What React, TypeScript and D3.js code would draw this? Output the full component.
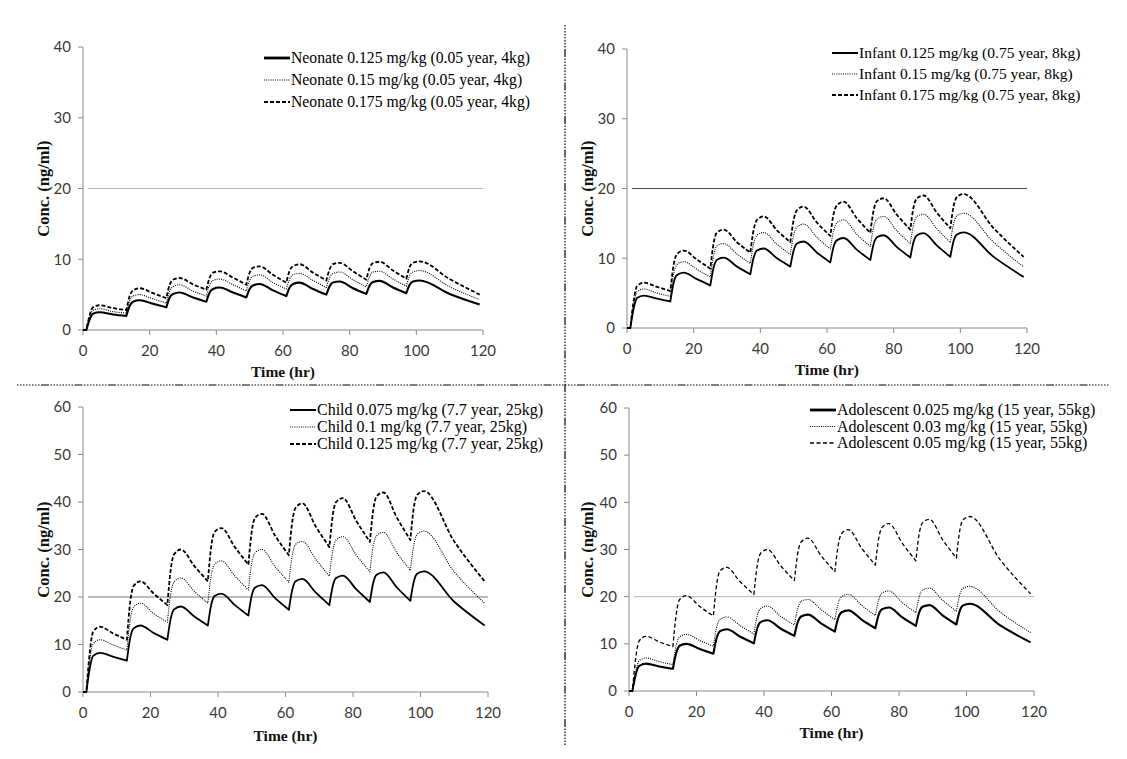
import React from "react";
import * as d3 from "d3";

// ---------- data ----------
const TIME = [0, 1, 2, 3, 5, 9, 13, 14, 15, 17, 21, 25, 26, 27, 29, 33, 37, 38, 39, 41, 45, 49, 50, 51, 53, 57, 61, 62, 63, 65, 69, 73, 74, 75, 77, 81, 85, 86, 87, 89, 93, 97, 98, 99, 101, 110, 119];
const DOSE_TIMES = [1, 13, 25, 37, 49, 61, 73, 85, 97];
const X_TICKS = [0, 20, 40, 60, 80, 100, 120];
const Y_TICKS_TOP = [0, 10, 20, 30, 40];
const Y_TICKS_BOTTOM = [0, 10, 20, 30, 40, 50, 60];

const NEONATE_0125 = [0, 0, 1.5, 2.3, 2.5, 2.2, 2.0, 3.4, 4.0, 4.2, 3.7, 3.2, 4.6, 5.1, 5.3, 4.6, 4.0, 5.3, 5.8, 6.0, 5.3, 4.6, 5.8, 6.3, 6.5, 5.6, 4.8, 6.0, 6.5, 6.7, 5.8, 5.0, 6.2, 6.7, 6.85, 5.9, 5.1, 6.3, 6.8, 6.95, 6.0, 5.2, 6.4, 6.85, 7.0, 5.1, 3.6];
const NEONATE_015 = [0, 0, 1.8, 2.8, 3.0, 2.6, 2.4, 4.1, 4.8, 5.0, 4.4, 3.8, 5.5, 6.1, 6.4, 5.5, 4.8, 6.4, 7.0, 7.2, 6.4, 5.5, 7.0, 7.6, 7.8, 6.7, 5.8, 7.2, 7.8, 8.0, 7.0, 6.0, 7.4, 8.0, 8.2, 7.1, 6.1, 7.6, 8.2, 8.3, 7.2, 6.2, 7.7, 8.2, 8.4, 6.1, 4.3];
const NEONATE_0175 = [0, 0, 2.1, 3.2, 3.5, 3.1, 2.8, 4.8, 5.6, 5.9, 5.2, 4.5, 6.4, 7.1, 7.35, 6.45, 5.7, 7.4, 8.1, 8.3, 7.4, 6.4, 8.1, 8.8, 9.0, 7.8, 6.7, 8.4, 9.0, 9.3, 8.1, 7.0, 8.6, 9.3, 9.5, 8.3, 7.1, 8.8, 9.45, 9.65, 8.4, 7.25, 8.9, 9.5, 9.7, 7.2, 5.0];

const INFANT_0125 = [0, 0, 2.8, 4.3, 4.65, 4.2, 3.8, 6.5, 7.6, 7.95, 7.0, 6.1, 8.7, 9.8, 10.1, 8.8, 7.7, 10.1, 11.1, 11.4, 10.0, 8.8, 11.1, 12.1, 12.4, 10.8, 9.4, 11.7, 12.6, 12.9, 11.2, 9.75, 12.05, 13.0, 13.3, 11.6, 10.1, 12.4, 13.3, 13.6, 11.8, 10.2, 12.5, 13.4, 13.7, 10.2, 7.3];
const INFANT_015 = [0, 0, 3.4, 5.2, 5.6, 5.0, 4.55, 7.8, 9.1, 9.5, 8.4, 7.3, 10.4, 11.8, 12.1, 10.6, 9.25, 12.1, 13.3, 13.7, 12.0, 10.55, 13.3, 14.5, 14.9, 13.0, 11.3, 14.0, 15.1, 15.5, 13.4, 11.7, 14.5, 15.6, 16.0, 13.9, 12.1, 14.9, 16.0, 16.3, 14.2, 12.25, 15.0, 16.1, 16.45, 12.3, 8.75];
const INFANT_0175 = [0, 0, 3.9, 6.0, 6.5, 5.9, 5.3, 9.1, 10.6, 11.1, 9.8, 8.5, 12.2, 13.7, 14.1, 12.3, 10.8, 14.1, 15.5, 16.0, 14.0, 12.3, 15.5, 16.9, 17.4, 15.1, 13.2, 16.4, 17.6, 18.1, 15.7, 13.65, 16.9, 18.2, 18.6, 16.2, 14.1, 17.4, 18.6, 19.0, 16.5, 14.3, 17.5, 18.8, 19.2, 14.3, 10.2];

const CHILD_0075 = [0, 0, 5.0, 7.6, 8.25, 7.4, 6.6, 11.4, 13.4, 14.0, 12.4, 11.0, 15.5, 17.4, 18.0, 15.9, 14.0, 18.4, 20.2, 20.7, 18.3, 16.1, 20.3, 22.0, 22.5, 19.7, 17.3, 21.5, 23.3, 23.8, 20.9, 18.3, 22.3, 24.0, 24.5, 21.6, 18.95, 23.0, 24.7, 25.2, 22.0, 19.2, 23.2, 24.9, 25.4, 19.0, 14.0];
const CHILD_01 = [0, 0, 6.7, 10.1, 11.0, 9.9, 8.8, 15.2, 17.9, 18.7, 16.5, 14.7, 20.7, 23.2, 24.0, 21.2, 18.7, 24.5, 26.9, 27.6, 24.4, 21.5, 27.1, 29.3, 30.0, 26.3, 23.1, 28.7, 31.1, 31.7, 27.9, 24.4, 29.7, 32.0, 32.7, 28.8, 25.3, 30.7, 32.9, 33.6, 29.3, 25.6, 30.9, 33.2, 33.9, 25.3, 18.7];
const CHILD_0125 = [0, 0, 8.3, 12.7, 13.75, 12.3, 11.0, 19.0, 22.3, 23.3, 20.7, 18.3, 25.8, 29.0, 30.0, 26.5, 23.3, 30.7, 33.7, 34.5, 30.5, 26.8, 33.8, 36.7, 37.5, 32.8, 28.8, 35.8, 38.8, 39.7, 34.8, 30.5, 37.2, 40.0, 40.8, 36.0, 31.6, 38.3, 41.2, 42.0, 36.7, 32.0, 38.7, 41.5, 42.3, 31.7, 23.3];

const ADOLESCENT_0025 = [0, 0, 3.5, 5.3, 5.8, 5.2, 4.7, 8.1, 9.6, 10.0, 8.9, 7.9, 11.3, 12.7, 13.1, 11.5, 10.1, 13.3, 14.6, 15.0, 13.2, 11.7, 14.6, 15.8, 16.2, 14.3, 12.6, 15.5, 16.7, 17.1, 15.1, 13.3, 16.2, 17.35, 17.7, 15.6, 13.8, 16.7, 17.85, 18.2, 16.0, 14.1, 17.0, 18.15, 18.5, 13.9, 10.3];
const ADOLESCENT_003 = [0, 0, 4.2, 6.4, 7.0, 6.2, 5.6, 9.7, 11.5, 12.0, 10.7, 9.5, 13.6, 15.2, 15.7, 13.8, 12.1, 16.0, 17.5, 18.0, 15.8, 14.0, 17.5, 19.0, 19.4, 17.2, 15.1, 18.6, 20.0, 20.5, 18.1, 16.0, 19.4, 20.8, 21.2, 18.7, 16.6, 20.0, 21.4, 21.8, 19.2, 16.9, 20.4, 21.8, 22.2, 16.7, 12.4];
const ADOLESCENT_005 = [0, 0, 7.0, 10.6, 11.6, 10.4, 9.4, 16.3, 19.4, 20.2, 17.9, 15.9, 22.7, 25.5, 26.2, 23.1, 20.5, 26.6, 29.2, 30.0, 26.5, 23.4, 29.2, 31.6, 32.4, 28.6, 25.3, 31.0, 33.4, 34.2, 30.2, 26.7, 32.4, 34.7, 35.5, 31.3, 27.6, 33.4, 35.7, 36.4, 32.0, 28.2, 34.0, 36.3, 37.0, 27.8, 20.6];

const NEONATE_LABELS = ["Neonate 0.125 mg/kg (0.05 year, 4kg)", "Neonate 0.15 mg/kg (0.05 year, 4kg)", "Neonate 0.175 mg/kg (0.05 year, 4kg)"];
const INFANT_LABELS = ["Infant 0.125 mg/kg (0.75 year, 8kg)", "Infant 0.15 mg/kg (0.75 year, 8kg)", "Infant 0.175 mg/kg (0.75 year, 8kg)"];
const CHILD_LABELS = ["Child 0.075 mg/kg (7.7 year, 25kg)", "Child 0.1 mg/kg (7.7 year, 25kg)", "Child 0.125 mg/kg (7.7 year, 25kg)"];
const ADOLESCENT_LABELS = ["Adolescent 0.025 mg/kg (15 year, 55kg)", "Adolescent 0.03 mg/kg (15 year, 55kg)", "Adolescent 0.05 mg/kg (15 year, 55kg)"];

const REFERENCE_LEVEL = 20;
const X_TITLE = "Time (hr)";
const Y_TITLE = "Conc. (ng/ml)";

// ---------- layout / style ----------
type LineStyle = { dash: string; width: number; legendWidth: number };
type Panel = {
  x0: number; x1: number; yTop: number; yBottom: number; yMax: number; yTicks: number[];
  series: number[][]; labels: string[]; styles: LineStyle[];
  gridColor: string;
  legendX: number; legendY: number; legendGap: number; legendFont: number;
  yTitleX: number; xTitleY: number;
};

const SOLID: LineStyle = { dash: "none", width: 1.8, legendWidth: 2 };
const SOLID_BOLD: LineStyle = { dash: "none", width: 2.1, legendWidth: 2.8 };
const DOTTED: LineStyle = { dash: "1,1.2", width: 1.1, legendWidth: 1.1 };
const DASHED: LineStyle = { dash: "4,2", width: 1.8, legendWidth: 1.8 };
const DASHED_THIN: LineStyle = { dash: "4,2.5", width: 1.3, legendWidth: 1.3 };

const PANELS: Panel[] = [
  {
    x0: 83, x1: 483, yTop: 47, yBottom: 330, yMax: 40, yTicks: Y_TICKS_TOP,
    series: [NEONATE_0125, NEONATE_015, NEONATE_0175], labels: NEONATE_LABELS,
    styles: [SOLID_BOLD, DOTTED, DASHED], gridColor: "#b4b4b4",
    legendX: 264, legendY: 58, legendGap: 22, legendFont: 15.7,
    yTitleX: 43, xTitleY: 377,
  },
  {
    x0: 627, x1: 1027, yTop: 49, yBottom: 328, yMax: 40, yTicks: Y_TICKS_TOP,
    series: [INFANT_0125, INFANT_015, INFANT_0175], labels: INFANT_LABELS,
    styles: [SOLID, DOTTED, DASHED], gridColor: "#4a4a4a",
    legendX: 832, legendY: 53, legendGap: 21, legendFont: 15.5,
    yTitleX: 587, xTitleY: 375,
  },
  {
    x0: 83, x1: 488, yTop: 407, yBottom: 692, yMax: 60, yTicks: Y_TICKS_BOTTOM,
    series: [CHILD_0075, CHILD_01, CHILD_0125], labels: CHILD_LABELS,
    styles: [SOLID, DOTTED, DASHED], gridColor: "#7a7a7a",
    legendX: 290, legendY: 410, legendGap: 17, legendFont: 16,
    yTitleX: 43, xTitleY: 741,
  },
  {
    x0: 629, x1: 1034, yTop: 408, yBottom: 691, yMax: 60, yTicks: Y_TICKS_BOTTOM,
    series: [ADOLESCENT_0025, ADOLESCENT_003, ADOLESCENT_005], labels: ADOLESCENT_LABELS,
    styles: [SOLID_BOLD, DOTTED, DASHED_THIN], gridColor: "#b4b4b4",
    legendX: 810, legendY: 410, legendGap: 16.5, legendFont: 16,
    yTitleX: 587, xTitleY: 738,
  },
];

const AXIS_COLOR = "#8a8a8a";
const TICK_FONT = "Lato, 'Open Sans', sans-serif";
const SERIF = "'Liberation Serif', 'Times New Roman', serif";
const DIVIDER_DASH = "1.5,1.5,1.5,1.5,1.5,1.5,1.5,1.5,1.5,1.5,1.5,1.5,1.5,1.5,1.5,1.5,8,1.5";

function buildPath(values: number[], x: d3.ScaleLinear<number, number>, y: d3.ScaleLinear<number, number>): string {
  const pts: [number, number][] = TIME.map((t, i) => [x(t), y(values[i])]);
  const breaks: number[] = [0];
  TIME.forEach((t, i) => { if (DOSE_TIMES.includes(t)) breaks.push(i); });
  breaks.push(TIME.length - 1);
  const line = d3.line().curve(d3.curveMonotoneX);
  let d = "";
  for (let k = 0; k < breaks.length - 1; k++) {
    const seg = pts.slice(breaks[k], breaks[k + 1] + 1);
    if (seg.length < 2) continue;
    const p = line(seg) || "";
    d += d === "" ? p : p.replace(/^M[^CL]*/, "");
  }
  return d;
}

function PanelView({ p }: { p: Panel }) {
  const x = d3.scaleLinear().domain([0, 120]).range([p.x0, p.x1]);
  const y = d3.scaleLinear().domain([0, p.yMax]).range([p.yBottom, p.yTop]);
  const midX = (p.x0 + p.x1) / 2;
  const midY = (p.yTop + p.yBottom) / 2;
  return (
    <g>
      {/* reference line */}
      <line x1={p.x0 + 5} x2={p.x1} y1={y(REFERENCE_LEVEL)} y2={y(REFERENCE_LEVEL)} stroke={p.gridColor} strokeWidth={1} />
      {/* axes */}
      <line x1={p.x0} x2={p.x0} y1={y(p.yMax)} y2={y(0)} stroke={AXIS_COLOR} strokeWidth={1} />
      <line x1={p.x0} x2={p.x1} y1={y(0)} y2={y(0)} stroke={AXIS_COLOR} strokeWidth={1} />
      {p.yTicks.map((v) => (
        <g key={"y" + v}>
          <line x1={p.x0 - 5} x2={p.x0} y1={y(v)} y2={y(v)} stroke={AXIS_COLOR} strokeWidth={1} />
          <text x={p.x0 - 12} y={y(v)} dy="0.35em" textAnchor="end" fontFamily={TICK_FONT} fontSize={15} fill="#3a3a3a">{v}</text>
        </g>
      ))}
      {X_TICKS.map((v) => (
        <g key={"x" + v}>
          <line x1={x(v)} x2={x(v)} y1={y(0)} y2={y(0) + 5} stroke={AXIS_COLOR} strokeWidth={1} />
          <text x={x(v)} y={y(0) + 26} textAnchor="middle" fontFamily={TICK_FONT} fontSize={15} fill="#3a3a3a">{v}</text>
        </g>
      ))}
      {/* titles */}
      <text x={midX} y={p.xTitleY} textAnchor="middle" fontFamily={SERIF} fontWeight="bold" fontSize={15.5} fill="#111">{X_TITLE}</text>
      <text transform={`translate(${p.yTitleX},${midY}) rotate(-90)`} textAnchor="middle" dy="0.35em" fontFamily={SERIF} fontWeight="bold" fontSize={16.5} fill="#111">{Y_TITLE}</text>
      {/* series */}
      {p.series.map((vals, i) => (
        <path key={"s" + i} d={buildPath(vals, x, y)} fill="none" stroke="#000" strokeWidth={p.styles[i].width}
          strokeDasharray={p.styles[i].dash} strokeLinejoin="round" />
      ))}
      {/* legend */}
      {p.labels.map((lab, i) => {
        const ly = p.legendY + i * p.legendGap;
        return (
          <g key={"l" + i}>
            <line x1={p.legendX} x2={p.legendX + 26} y1={ly} y2={ly} stroke="#000" strokeWidth={p.styles[i].legendWidth} strokeDasharray={p.styles[i].dash} />
            <text x={p.legendX + 27} y={ly} dy="0.33em" fontFamily={SERIF} fontSize={p.legendFont} fill="#000">{lab}</text>
          </g>
        );
      })}
    </g>
  );
}

export default function App() {
  return (
    <svg width={1127} height={759} style={{ position: "absolute", left: 0, top: 0, background: "#fff" }}>
      <rect x={0} y={0} width={1127} height={759} fill="#fff" />
      {PANELS.map((p, i) => <PanelView key={i} p={p} />)}
      <line x1={17} x2={1110} y1={385} y2={385} stroke="#000" strokeWidth={1.2} strokeDasharray={DIVIDER_DASH} />
      <line x1={565} x2={565} y1={25} y2={746} stroke="#000" strokeWidth={1.2} strokeDasharray={DIVIDER_DASH} />
    </svg>
  );
}
